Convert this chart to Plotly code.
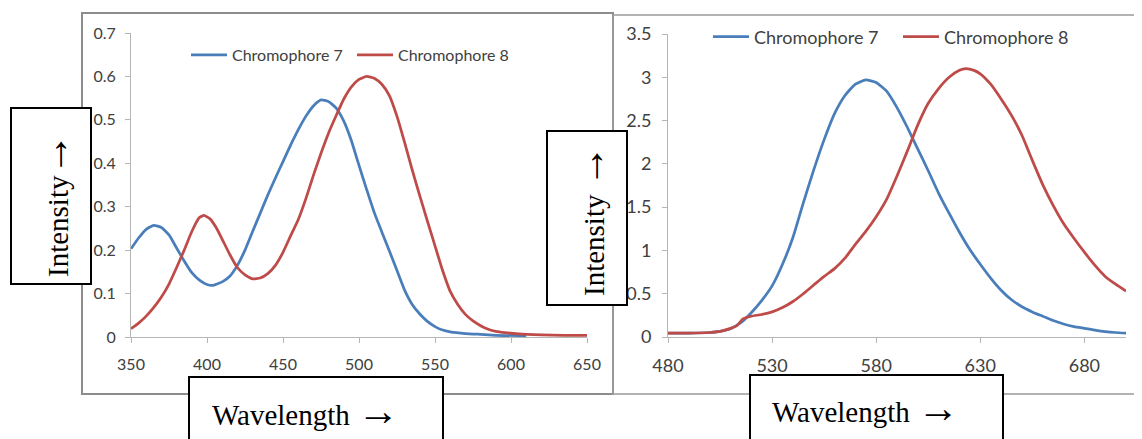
import plotly.graph_objects as go

# The page body keeps the browser's default 8px margin, so the figure is
# drawn 8px in from the top-left corner of the 1142x439 window.
OFF = 8
W, H = 1142 - OFF, 439 - OFF

# ---------------- data ----------------
series_names = ["Chromophore 7", "Chromophore 8"]

# left chart (absorption)
abs_wl_c7 = [350, 355, 360, 365, 370, 375, 380, 385, 390, 395, 400, 404, 410, 415, 420,
             425, 430, 435, 440, 445, 450, 455, 460, 465, 470, 475, 480, 485, 490, 495,
             500, 505, 510, 515, 520, 525, 530, 535, 540, 545, 550, 555, 560, 570, 580,
             590, 610]
abs_c7 = [0.203, 0.228, 0.248, 0.257, 0.252, 0.235, 0.205, 0.175, 0.148, 0.131, 0.121,
          0.119, 0.127, 0.140, 0.165, 0.200, 0.243, 0.285, 0.327, 0.366, 0.404, 0.442,
          0.477, 0.508, 0.532, 0.546, 0.542, 0.527, 0.497, 0.452, 0.395, 0.340, 0.287,
          0.242, 0.198, 0.153, 0.108, 0.075, 0.053, 0.036, 0.024, 0.016, 0.012, 0.008,
          0.006, 0.004, 0.003]

abs_wl_c8 = [350, 355, 360, 365, 370, 375, 380, 385, 390, 395, 398, 402, 406, 410, 415,
             420, 425, 430, 435, 440, 445, 450, 455, 460, 465, 470, 475, 480, 485, 490,
             495, 500, 505, 510, 515, 520, 525, 530, 535, 540, 545, 550, 555, 560, 565,
             570, 575, 580, 585, 590, 596, 605, 620, 635, 650]
abs_c8 = [0.019, 0.032, 0.048, 0.068, 0.092, 0.122, 0.160, 0.200, 0.243, 0.275, 0.280,
          0.272, 0.252, 0.225, 0.190, 0.160, 0.143, 0.134, 0.136, 0.146, 0.165, 0.195,
          0.233, 0.270, 0.318, 0.372, 0.423, 0.470, 0.510, 0.548, 0.576, 0.593, 0.600,
          0.596, 0.582, 0.556, 0.508, 0.448, 0.385, 0.325, 0.267, 0.210, 0.153, 0.105,
          0.075, 0.052, 0.037, 0.026, 0.018, 0.013, 0.010, 0.007, 0.005, 0.004, 0.004]

# right chart (emission)
em_wl_c7 = [480, 490, 500, 505, 510, 515, 520, 525, 530, 535, 540, 545, 550, 555, 560,
            565, 570, 575, 580, 585, 590, 595, 600, 605, 610, 615, 620, 625, 630, 635,
            640, 645, 650, 655, 660, 665, 670, 675, 680, 685, 690, 695, 700]
em_c7 = [0.046, 0.046, 0.052, 0.065, 0.095, 0.165, 0.280, 0.420, 0.590, 0.840, 1.150,
         1.550, 1.930, 2.280, 2.580, 2.790, 2.920, 2.970, 2.940, 2.840, 2.650, 2.420,
         2.170, 1.920, 1.660, 1.430, 1.210, 1.010, 0.840, 0.680, 0.540, 0.430, 0.350,
         0.290, 0.240, 0.190, 0.150, 0.120, 0.100, 0.080, 0.063, 0.052, 0.045]

em_wl_c8 = [480, 490, 500, 505, 510, 513, 516, 520, 525, 530, 535, 540, 545, 550, 555,
            560, 565, 570, 575, 580, 585, 590, 595, 600, 605, 610, 615, 620, 623, 627,
            630, 635, 640, 645, 650, 655, 660, 665, 670, 675, 680, 685, 690, 695, 700]
em_c8 = [0.046, 0.046, 0.052, 0.065, 0.100, 0.130, 0.210, 0.240, 0.260, 0.290, 0.340,
         0.410, 0.500, 0.600, 0.700, 0.790, 0.910, 1.070, 1.220, 1.390, 1.590, 1.860,
         2.150, 2.450, 2.700, 2.870, 3.000, 3.080, 3.100, 3.080, 3.040, 2.920, 2.750,
         2.560, 2.330, 2.040, 1.760, 1.520, 1.310, 1.140, 0.980, 0.830, 0.700, 0.610,
         0.530]

abs_xticks = [350, 400, 450, 500, 550, 600, 650]
abs_yticks = [0, 0.1, 0.2, 0.3, 0.4, 0.5, 0.6, 0.7]
abs_ytext = ["0", "0.1", "0.2", "0.3", "0.4", "0.5", "0.6", "0.7"]
em_xticks = [480, 530, 580, 630, 680]
em_yticks = [0, 0.5, 1, 1.5, 2, 2.5, 3, 3.5]
em_ytext = ["0", "0.5", "1", "1.5", "2", "2.5", "3", "3.5"]

ARROW = "<span style='font-size:42px'>→</span>"
ylabel_left = "Intensity" + ARROW
ylabel_right = "Intensity " + ARROW
xlabel = "Wavelength " + ARROW

# ---------------- helpers ----------------
def px(x):
    return (x - OFF) / W


def py(y):
    return 1 - (y - OFF) / H


BLUE = "#4A7EBB"
RED = "#BE4B48"
colors = [BLUE, RED]

fig = go.Figure()
for name, c, xs, ys in zip(series_names, colors, [abs_wl_c7, abs_wl_c8], [abs_c7, abs_c8]):
    fig.add_trace(go.Scatter(x=xs, y=ys, name=name, mode="lines",
                             line=dict(color=c, width=2.75, shape="spline", smoothing=0.5),
                             xaxis="x", yaxis="y", legend="legend", hoverinfo="skip"))
for name, c, xs, ys in zip(series_names, colors, [em_wl_c7, em_wl_c8], [em_c7, em_c8]):
    fig.add_trace(go.Scatter(x=xs, y=ys, name=name, mode="lines",
                             line=dict(color=c, width=2.75, shape="spline", smoothing=0.5),
                             xaxis="x2", yaxis="y2", legend="legend2", hoverinfo="skip"))

axis_common = dict(showgrid=False, zeroline=False, showline=True, linecolor="#B5B5B5",
                   linewidth=1, ticks="outside", ticklen=5, tickcolor="#B5B5B5",
                   tickwidth=1, automargin=False, fixedrange=True)
tf_left = dict(family="Lato", size=16, color="#404040")
tf_right = dict(family="Lato", size=18, color="#404040")

fig.update_layout(
    width=W, height=H, autosize=False,
    margin=dict(l=0, r=0, t=0, b=0, pad=0),
    paper_bgcolor="white", plot_bgcolor="white",
    xaxis=dict(domain=[px(131), px(587)], range=[350, 650], tickvals=abs_xticks,
               anchor="y", tickfont=tf_left, ticklabelstandoff=8, **axis_common),
    yaxis=dict(domain=[py(337), py(33)], range=[0, 0.7], tickvals=abs_yticks,
               ticktext=abs_ytext, anchor="x", tickfont=tf_left, ticklabelstandoff=6,
               **axis_common),
    xaxis2=dict(domain=[px(668), px(1126)], range=[480, 700], tickvals=em_xticks,
                anchor="y2", tickfont=tf_right, ticklabelstandoff=7, **axis_common),
    yaxis2=dict(domain=[py(337), py(34)], range=[0, 3.5], tickvals=em_yticks,
                ticktext=em_ytext, anchor="x2", tickfont=tf_right, ticklabelstandoff=7,
                **axis_common),
    legend=dict(orientation="h", x=px(186), y=py(55), xanchor="left", yanchor="middle",
                font=dict(family="Lato", size=16, color="#404040"),
                bgcolor="rgba(0,0,0,0)", entrywidth=115, itemwidth=36),
    legend2=dict(orientation="h", x=px(708), y=py(37), xanchor="left", yanchor="middle",
                 font=dict(family="Lato", size=18, color="#404040"),
                 bgcolor="rgba(0,0,0,0)", entrywidth=139, itemwidth=36),
)

shapes = []
# chart frames
shapes.append(dict(type="rect", xref="paper", yref="paper", x0=px(82), x1=px(613),
                   y0=py(394), y1=py(13), line=dict(color="#8C8C8C", width=2),
                   fillcolor="rgba(0,0,0,0)", layer="below"))
shapes.append(dict(type="rect", xref="paper", yref="paper", x0=px(613), x1=px(1160),
                   y0=py(394), y1=py(15), line=dict(color="#9A9A9A", width=1.5),
                   fillcolor="rgba(0,0,0,0)", layer="below"))
# label boxes
for (x0, y0, x1, y1) in [(11, 108, 91, 284), (189, 377, 443, 470),
                         (547, 131, 627, 305), (750, 375, 1003, 470)]:
    shapes.append(dict(type="rect", xref="paper", yref="paper", x0=px(x0), x1=px(x1),
                       y0=py(y1), y1=py(y0), line=dict(color="black", width=2),
                       fillcolor="white", layer="above"))
fig.update_layout(shapes=shapes)

serif = dict(family="Liberation Serif", size=29, color="black")
annotations = [
    dict(text=ylabel_left, x=px(54), y=py(205), xanchor="center", yanchor="middle",
         textangle=-90, font=serif),
    dict(text=xlabel, x=px(210), y=py(411), xanchor="left", yanchor="middle", font=serif),
    dict(text=ylabel_right, x=px(590), y=py(221), xanchor="center", yanchor="middle",
         textangle=-90, font=serif),
    dict(text=xlabel, x=px(770), y=py(408), xanchor="left", yanchor="middle", font=serif),
]
for a in annotations:
    a.update(xref="paper", yref="paper", showarrow=False)
fig.update_layout(annotations=annotations)

fig.write_html("out.html")
